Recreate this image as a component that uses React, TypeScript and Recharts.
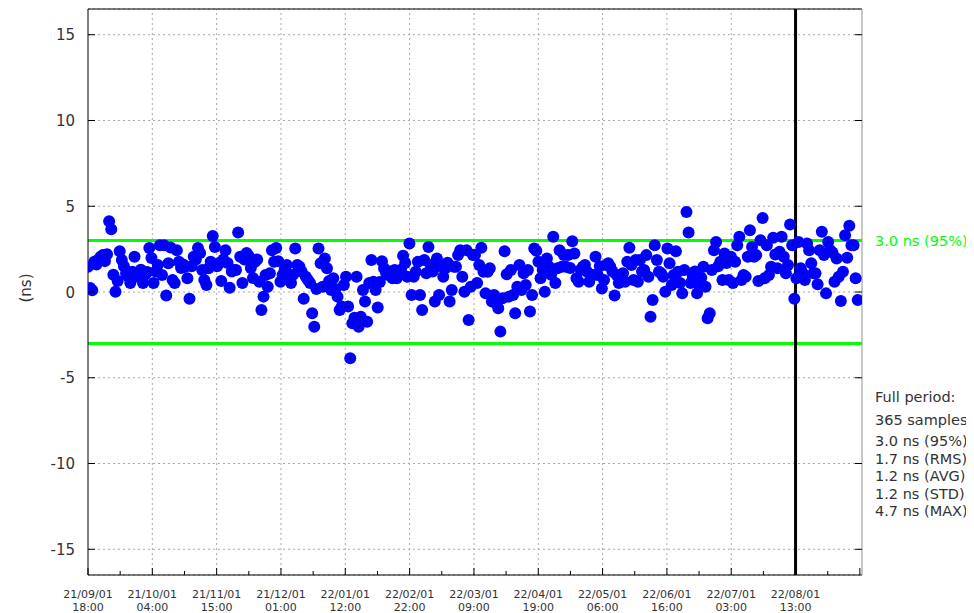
import React from 'react';
import { ScatterChart, Scatter, XAxis, YAxis, CartesianGrid, ReferenceLine } from 'recharts';

// Daily time-offset samples (ns), 365 samples starting 21/09/01 18:00
const offsetsNs: number[] = [
  1.47, 0.23, 0.1, 1.76, 1.6, 1.9, 2.05, 2.15, 1.8, 2.2,
  4.13, 3.66, 1.0, 0.02, 0.64, 2.38, 1.86, 1.5, 1.1, 0.9,
  0.52, 1.18, 2.05, 0.9, 1.1, 1.3, 0.52, 1.0, 1.16, 2.56,
  1.98, 0.52, 1.2, 1.57, 2.73, 0.99, 2.73, -0.2, 1.68, 2.6,
  0.7, 0.52, 2.44, 1.76, 1.4, 1.6, 1.47, 0.8, -0.4, 1.5,
  2.05, 1.9, 2.56, 2.27, 1.28, 0.7, 0.41, 1.39, 1.76, 3.27,
  2.63, 1.5, 1.69, 0.64, 1.9, 2.44, 1.69, 0.25, 1.2, 1.28,
  1.28, 3.47, 2.05, 0.52, 1.9, 2.27, 2.1, 1.4, 0.81, 1.76,
  1.9, 0.6, -1.05, -0.27, 0.99, 0.3, 1.1, 2.44, 1.76, 2.56,
  1.8, 0.6, 0.99, 1.3, 1.57, 0.89, 0.52, 1.0, 2.54, 1.57,
  1.47, 1.2, -0.4, 0.89, 0.7, 0.52, -1.24, -2.02, 0.17, 2.54,
  1.67, 0.31, 1.96, 1.39, 0.64, 0.12, 0.8, 0.17, -0.27, -1.05,
  -0.85, 0.41, 0.89, -0.85, -3.86, -1.82, -1.5, 0.89, -2.02, -1.44,
  0.12, -0.56, -1.73, 0.52, 1.86, 0.6, 0.12, -0.91, 0.58, 1.8,
  1.39, 1.1, 0.99, 1.2, 0.8, 1.28, 0.8, 0.99, 1.3, 2.11,
  1.69, 0.89, 2.83, -0.17, 0.89, 1.18, 1.76, -0.17, -1.05, 1.86,
  1.1, 2.63, 1.57, 1.2, -0.56, 1.96, -0.17, 1.5, 0.89, 1.39,
  1.7, -0.56, 0.12, 1.47, 1.47, 2.15, 2.44, 0.89, 0.02, 2.44,
  -1.63, 0.31, 2.15, 2.15, 0.52, 1.57, 2.58, 1.18, -0.08, 1.18,
  1.38, -0.56, -0.17, -0.66, -0.95, -2.31, -0.37, 2.38, 1.03, -0.27,
  1.28, -0.17, -1.24, 0.31, 1.57, 0.12, 1.09, 0.41, 1.28, -1.14,
  -0.17, 2.54, 2.4, 1.76, 0.8, 1.28, 0.02, 1.96, 1.47, 1.0,
  3.22, 0.52, 1.38, 2.44, 1.47, 2.15, 1.47, 2.15, 1.4, 2.96,
  2.25, 0.8, 0.6, 1.3, 1.47, 1.57, 1.18, 0.6, 1.0, 0.99,
  2.05, 0.99, 1.5, 0.21, 0.7, 1.57, 1.67, 1.47, 1.2, -0.21,
  0.99, 0.52, 0.99, 1.1, 0.6, 1.76, 2.58, 1.57, 0.7, 1.86,
  0.6, 1.86, 1.2, 1.28, 2.15, 0.89, -1.44, -0.47, 2.73, 1.86,
  1.18, 1.1, 0.89, 0.02, 2.54, 1.67, 0.41, 0.99, 2.38, 1.18,
  0.52, -0.08, 1.28, 4.67, 3.47, 0.52, 0.89, 1.2, -0.08, 0.41,
  0.83, 1.47, 0.31, -1.53, -1.24, 1.28, 2.44, 2.92, 1.5, 1.76,
  0.7, 2.25, 1.69, 0.7, 2.05, 0.52, 1.76, 2.73, 3.22, 0.7,
  0.99, 0.89, 2.05, 3.6, 2.63, 2.05, 2.15, 0.64, 3.02, 4.32,
  0.8, 2.73, 0.99, 1.47, 3.16, 2.19, 1.38, 2.34, 3.22, 2.05,
  1.09, 1.57, 3.93, 2.73, -0.4, 0.8, 2.92, 1.38, 1.1, 0.7,
  2.83, 2.44, 1.67, 1.1, 1.09, 0.45, 2.44, 3.51, 2.15, -0.08,
  2.92, 2.44, 2.3, 0.6, 1.96, 0.89, -0.52, 1.18, 3.31, 2.0,
  3.86, 2.73, 2.73, 0.8, -0.47,
];

const tickDates: string[] = [
  '21/09/01', '21/10/01', '21/11/01', '21/12/01', '22/01/01', '22/02/01',
  '22/03/01', '22/04/01', '22/05/01', '22/06/01', '22/07/01', '22/08/01',
];
const tickTimes: string[] = [
  '18:00', '04:00', '15:00', '01:00', '12:00', '22:00',
  '09:00', '19:00', '06:00', '16:00', '03:00', '13:00',
];
const yTicks: number[] = [-15, -10, -5, 0, 5, 10, 15];
const yDomain: [number, number] = [-16.5, 16.5];
const xDomain: [number, number] = [0, 366];
const DAYS_PER_TICK = 365 / 12;
const limit95 = 3.0;
const limitLabel = '3.0 ns (95%)';
const markerIndex = 11; // tick index of the bold vertical marker (22/08/01 13:00)
const statsLines: string[] = [
  'Full period:', '365 samples', '3.0 ns (95%)', '1.7 ns (RMS)', '1.2 ns (AVG)', '1.2 ns (STD)', '4.7 ns (MAX)',
];

const data = offsetsNs.map((v, i) => ({ t: i, v }));
const majorTicks = Array.from({ length: 13 }, (_, k) => k * DAYS_PER_TICK);
const minorTicks = Array.from({ length: 12 }, (_, k) => (k + 0.5) * DAYS_PER_TICK);
const allXTicks = [...majorTicks, ...minorTicks].sort((a, b) => a - b);

const FONT = 'DejaVu Sans, sans-serif';
const TEXT = '#333';

const tickInfo = (val: number) => {
  const k2 = Math.round((val / DAYS_PER_TICK) * 2);
  return { major: k2 % 2 === 0, idx: k2 / 2 };
};

const BottomTick = (props: any) => {
  const { x, y, payload } = props;
  const { major, idx } = tickInfo(payload.value);
  return (
    <g>
      <line x1={x} x2={x} y1={y} y2={y - (major ? 7 : 4)} stroke="#000" strokeWidth={1} />
      {major && idx < tickDates.length && (
        <text x={x} y={y + 23} textAnchor="middle" fontSize={11} fill={TEXT} fontFamily={FONT}>
          <tspan x={x} y={y + 23}>{tickDates[idx]}</tspan>
          <tspan x={x} y={y + 36}>{tickTimes[idx]}</tspan>
        </text>
      )}
    </g>
  );
};

const TopTick = (props: any) => {
  const { x, y, payload } = props;
  const { major } = tickInfo(payload.value);
  return <line x1={x} x2={x} y1={y} y2={y + (major ? 7 : 4)} stroke="#000" strokeWidth={1} />;
};

const LeftTick = (props: any) => {
  const { x, y, payload } = props;
  return (
    <g>
      <line x1={x} x2={x + 7} y1={y} y2={y} stroke="#000" strokeWidth={1} />
      <text x={x - 13} y={y + 5.5} textAnchor="end" fontSize={15} fill={TEXT} fontFamily={FONT}>
        {payload.value}
      </text>
    </g>
  );
};

const RightTick = (props: any) => {
  const { x, y } = props;
  return <line x1={x} x2={x - 7} y1={y} y2={y} stroke="#000" strokeWidth={1} />;
};

const Dot = (p: any) => (
  <g>
    <circle cx={p.cx} cy={p.cy} r={6} fill="#0000ff" />
    <rect x={p.cx - 0.5} y={p.cy - 0.5} width={1} height={1} fill="#000" />
  </g>
);

const YLabel = (props: any) => {
  const vb = props.viewBox || { x: 0, y: 0, width: 80, height: 566 };
  const cx = vb.x + 18;
  const cy = vb.y + vb.height / 2 - 4;
  return (
    <text x={cx} y={cy} transform={`rotate(-90, ${cx}, ${cy})`} textAnchor="middle" dominantBaseline="central"
      fontSize={15} fill={TEXT} fontFamily={FONT}>
      (ns)
    </text>
  );
};

export default function App() {
  return (
    <div style={{ position: 'relative', width: 966, height: 605, fontFamily: FONT }}>
      <ScatterChart width={966} height={605} margin={{ top: 0, right: 0, bottom: 0, left: 0 }}>
        <CartesianGrid vertical={false} stroke="#a8a8a8" strokeDasharray="2 3" />
        {majorTicks.slice(1, 12).map((t) => (
          <ReferenceLine key={'g' + t} x={t} stroke="#a8a8a8" strokeDasharray="2 3" />
        ))}
        <XAxis dataKey="t" type="number" domain={xDomain} allowDataOverflow ticks={allXTicks} interval={0}
          height={38} tickSize={0} tickMargin={0} tick={<BottomTick />} axisLine={{ stroke: '#000' }} />
        <XAxis xAxisId="top" orientation="top" type="number" domain={xDomain} allowDataOverflow ticks={allXTicks}
          interval={0} height={1} tickSize={0} tickMargin={0} tick={<TopTick />} axisLine={{ stroke: '#000' }} />
        <YAxis dataKey="v" type="number" domain={yDomain} allowDataOverflow ticks={yTicks} interval={0}
          width={80} tickSize={0} tickMargin={0} tick={<LeftTick />} axisLine={{ stroke: '#000' }}
          label={<YLabel />} />
        <YAxis yAxisId="r" orientation="right" type="number" domain={yDomain} allowDataOverflow ticks={yTicks}
          interval={0} width={112} tickSize={0} tickMargin={0} tick={<RightTick />} axisLine={{ stroke: '#909090' }} />
        <ReferenceLine y={limit95} stroke="#00ff00" strokeWidth={3}
          label={{ value: limitLabel, position: 'right', offset: 13, fill: '#00ff00', fontSize: 14.5, fontFamily: FONT }} />
        <ReferenceLine y={-limit95} stroke="#00ff00" strokeWidth={3} />
        <Scatter data={data} shape={<Dot />} isAnimationActive={false} />
        <ReferenceLine x={majorTicks[markerIndex]} stroke="#000" strokeWidth={3} />
      </ScatterChart>
      {statsLines.map((s, i) => {
        const centers = [390, 413, 434, 452, 469, 487, 504];
        return (
          <div key={i} style={{ position: 'absolute', left: 867, top: centers[i] - 9, fontSize: 14.5, lineHeight: '17px',
            color: TEXT, whiteSpace: 'nowrap', fontFamily: FONT }}>
            {s}
          </div>
        );
      })}
    </div>
  );
}
